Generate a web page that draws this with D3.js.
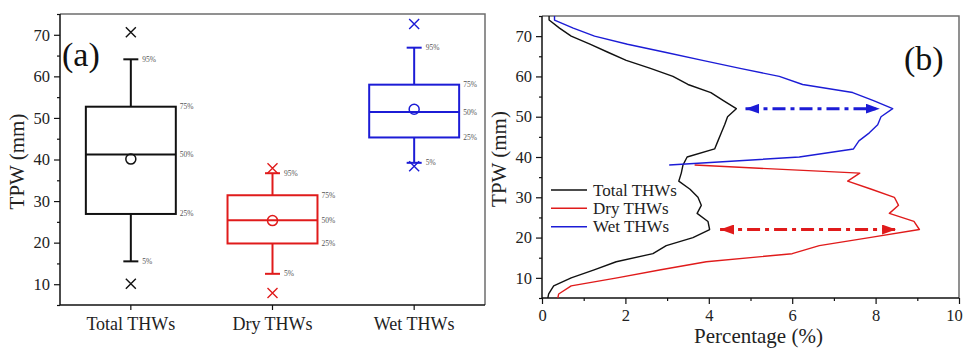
<!DOCTYPE html>
<html><head><meta charset="utf-8">
<script src="https://cdn.jsdelivr.net/npm/d3@7"></script>
<style>
body{margin:0;background:#fff;}
svg text{font-family:"Liberation Serif","Times New Roman",Times,"DejaVu Serif",serif !important;}
</style></head>
<body><svg id="c" width="963" height="350"></svg>
<script>
// ---------- Panel (a) data: box plot statistics (TPW, mm) ----------
const categories = ["Total THWs", "Dry THWs", "Wet THWs"];
const boxColors = ["#111111", "#e01b1b", "#1c1cd6"];
const p5     = [15.5, 12.5, 39.2];
const p25    = [26.9, 19.8, 45.3];
const median = [41.2, 25.4, 51.4];
const mean   = [40.1, 25.3, 52.1];
const p75    = [52.7, 31.4, 58.0];
const p95    = [64.1, 36.7, 66.9];
const minV   = [10.1, 7.9, 38.4];
const maxV   = [70.6, 37.9, 72.6];
const yTicks = [10, 20, 30, 40, 50, 60, 70];

// ---------- Panel (b) data: percentage distribution by TPW ----------
const seriesNames = ["Total THWs", "Dry THWs", "Wet THWs"];
const lineColors = ["#111111", "#e01b1b", "#1c1cd6"];
const totalTPW = [76, 74, 72, 70, 68, 66, 64, 62, 60, 58, 56, 54, 52, 50, 48, 46, 44, 42, 40, 38, 36, 34, 32, 30, 28, 26, 24, 22, 20, 18, 16, 14, 12, 10, 8, 6, 4];
const totalPct = [0.17, 0.17, 0.42, 0.70, 1.15, 1.58, 2.02, 2.60, 3.14, 3.50, 4.05, 4.35, 4.66, 4.45, 4.38, 4.30, 4.22, 4.14, 3.48, 3.38, 3.34, 3.28, 3.55, 3.74, 3.82, 3.72, 3.98, 4.02, 3.62, 2.98, 2.66, 1.78, 1.25, 0.70, 0.28, 0.16, 0.12];
const dryTPW = [38, 36, 34, 32, 30, 28, 26, 24, 22, 20, 18, 16, 14, 12, 10, 8, 6, 4];
const dryPct = [3.66, 7.62, 7.33, 7.90, 8.45, 8.55, 8.33, 8.92, 9.05, 7.85, 6.65, 6.00, 3.94, 2.85, 1.80, 0.70, 0.40, 0.36];
const wetTPW = [76, 74, 72, 70, 68, 66, 64, 62, 60, 58, 56, 54, 52, 50, 48, 46, 44, 42, 40, 38];
const wetPct = [0.30, 0.30, 0.75, 1.26, 2.05, 2.95, 3.85, 4.75, 5.69, 6.25, 7.45, 7.95, 8.41, 8.13, 8.05, 7.85, 7.60, 7.47, 6.17, 3.05];
const xTicksB = [0, 2, 4, 6, 8, 10];
// arrow annotations: [from %, to %, TPW]
const arrowFrom = [4.88, 4.27];
const arrowTo   = [8.10, 8.49];
const arrowTPW  = [52, 22];
const arrowColors = ["#1c1cd6", "#e01b1b"];

const svg = d3.select("#c");

// =================== Panel (a) ===================
const A = {l: 60, r: 485, t: 14, b: 305};
const xa = d3.scaleBand().domain(categories).range([A.l, A.r]).paddingInner(0.365).paddingOuter(0.1825);
const ya = d3.scaleLinear().domain([5, 75]).range([A.b, A.t]);

svg.append("path").attr("d", `M${A.l},${A.t}H${A.r}V${A.b}`).attr("fill", "none").attr("stroke", "#6e6e6e").attr("stroke-width", 1.5);

const gya = svg.append("g").attr("transform", `translate(${A.l},0)`)
  .call(d3.axisLeft(ya).tickValues(yTicks).tickSize(6).tickPadding(4).tickFormat(d3.format("d")));
gya.append("g").call(d3.axisLeft(ya).tickValues(d3.range(5, 76, 10)).tickSize(3).tickFormat(""));
const gxa = svg.append("g").attr("transform", `translate(0,${A.b})`)
  .call(d3.axisBottom(xa).tickSize(5).tickPadding(7));
[gya, gxa].forEach(g => {
  g.selectAll(".domain").attr("stroke", "#111").attr("stroke-width", 1.5);
  g.selectAll("line").attr("stroke", "#111").attr("stroke-width", 1.2);
});
gya.selectAll("g g .domain").remove();
gya.selectAll("text").attr("font-size", 16.5).attr("fill", "#222");
gxa.selectAll("text").attr("font-size", 18).attr("fill", "#222");
gya.select(":scope > path.domain").attr("d", `M0,${A.b}V${A.t}`);
gxa.select(":scope > path.domain").attr("d", `M${A.l},0H${A.r}`);

svg.append("text").attr("transform", `translate(24,${(A.t + A.b) / 2 + 2}) rotate(-90)`)
  .attr("text-anchor", "middle").attr("font-size", 21).attr("fill", "#222").text("TPW (mm)");
svg.append("text").attr("x", 62).attr("y", 66).attr("font-size", 34).attr("fill", "#111").text("(a)");

const bw = xa.bandwidth();
const capW = 15;
categories.forEach((c, i) => {
  const g = svg.append("g").attr("stroke", boxColors[i]).attr("stroke-width", 2).attr("fill", "none");
  const x0 = xa(c), cx = x0 + bw / 2, x1 = x0 + bw;
  g.append("line").attr("x1", cx).attr("x2", cx).attr("y1", ya(p75[i])).attr("y2", ya(p95[i]));
  g.append("line").attr("x1", cx).attr("x2", cx).attr("y1", ya(p25[i])).attr("y2", ya(p5[i]));
  g.append("line").attr("x1", cx - capW / 2).attr("x2", cx + capW / 2).attr("y1", ya(p95[i])).attr("y2", ya(p95[i]));
  g.append("line").attr("x1", cx - capW / 2).attr("x2", cx + capW / 2).attr("y1", ya(p5[i])).attr("y2", ya(p5[i]));
  g.append("rect").attr("x", x0).attr("y", ya(p75[i])).attr("width", bw).attr("height", ya(p25[i]) - ya(p75[i])).attr("fill", "#fff");
  g.append("line").attr("x1", x0).attr("x2", x1).attr("y1", ya(median[i])).attr("y2", ya(median[i]));
  g.append("circle").attr("cx", cx).attr("cy", ya(mean[i])).attr("r", 5).attr("stroke-width", 1.5);
  [minV[i], maxV[i]].forEach(v => {
    const s = 5, y = ya(v);
    g.append("path").attr("d", `M${cx - s},${y - s}L${cx + s},${y + s}M${cx - s},${y + s}L${cx + s},${y - s}`)
      .attr("stroke-width", 1.4);
  });
  const lab = (x, v, t) => svg.append("text").attr("x", x).attr("y", ya(v) + 2.5)
    .attr("font-size", 7.5).attr("fill", "#555").text(t);
  lab(cx + capW / 2 + 4, p95[i], "95%");
  lab(cx + capW / 2 + 4, p5[i], "5%");
  lab(x1 + 4, p75[i], "75%");
  lab(x1 + 4, median[i], "50%");
  lab(x1 + 4, p25[i], "25%");
});

// =================== Panel (b) ===================
const B = {l: 542, r: 959, t: 16, b: 298};
const xb = d3.scaleLinear().domain([0, 10]).range([B.l, B.r]);
const yb = d3.scaleLinear().domain([5, 75]).range([B.b, B.t]);

svg.append("path").attr("d", `M${B.l},${B.t}H${B.r}V${B.b}`).attr("fill", "none").attr("stroke", "#6e6e6e").attr("stroke-width", 1.5);

const gyb = svg.append("g").attr("transform", `translate(${B.l},0)`)
  .call(d3.axisLeft(yb).tickValues(yTicks).tickSize(6).tickPadding(4).tickFormat(d3.format("d")));
gyb.append("g").call(d3.axisLeft(yb).tickValues(d3.range(5, 76, 10)).tickSize(3).tickFormat(""));
const gxb = svg.append("g").attr("transform", `translate(0,${B.b})`)
  .call(d3.axisBottom(xb).tickValues(xTicksB).tickSize(6).tickPadding(5).tickFormat(d3.format("d")));
gxb.append("g").call(d3.axisBottom(xb).tickValues(d3.range(1, 10, 2)).tickSize(3).tickFormat(""));
[gyb, gxb].forEach(g => {
  g.selectAll("line").attr("stroke", "#111").attr("stroke-width", 1.2);
  g.selectAll(".domain").attr("stroke", "#111").attr("stroke-width", 1.5);
  g.selectAll("text").attr("font-size", 16.5).attr("fill", "#222");
});
// keep the last x tick label inside the canvas
gxb.selectAll(".tick text").filter(d => d === 10).attr("text-anchor", "end").attr("dx", "0.2em");
gyb.selectAll("g g .domain").remove();
gxb.selectAll("g g .domain").remove();
gyb.select(":scope > path.domain").attr("d", `M0,${B.b}V${B.t}`);
gxb.select(":scope > path.domain").attr("d", `M${B.l},0H${B.r}`);

svg.append("text").attr("transform", `translate(506,${(B.t + B.b) / 2 + 2}) rotate(-90)`)
  .attr("text-anchor", "middle").attr("font-size", 21).attr("fill", "#222").text("TPW (mm)");
svg.append("text").attr("x", (B.l + B.r) / 2 + 8).attr("y", 343).attr("text-anchor", "middle")
  .attr("font-size", 21).attr("fill", "#222").text("Percentage (%)");
svg.append("text").attr("x", 904).attr("y", 70).attr("font-size", 34).attr("fill", "#111").text("(b)");

svg.append("clipPath").attr("id", "clipB").append("rect")
  .attr("x", B.l).attr("y", B.t).attr("width", B.r - B.l).attr("height", B.b - B.t);

const line = d3.line().x(d => xb(d[0])).y(d => yb(d[1]));
const seriesData = [
  d3.zip(totalPct, totalTPW),
  d3.zip(dryPct, dryTPW),
  d3.zip(wetPct, wetTPW)
];
const lg = svg.append("g").attr("clip-path", "url(#clipB)");
seriesData.forEach((s, i) => {
  lg.append("path").datum(s).attr("d", line).attr("fill", "none")
    .attr("stroke", lineColors[i]).attr("stroke-width", 1.4).attr("stroke-linejoin", "round");
});

const defs = svg.append("defs");
arrowColors.forEach((col, i) => {
  defs.append("marker").attr("id", "ah" + i).attr("markerUnits", "userSpaceOnUse")
    .attr("viewBox", "0 0 14 10").attr("refX", 14).attr("refY", 5)
    .attr("markerWidth", 14).attr("markerHeight", 10).attr("orient", "auto-start-reverse")
    .append("path").attr("d", "M0,0L14,5L0,10Z").attr("fill", col);
});
arrowTPW.forEach((t, i) => {
  svg.append("line").attr("x1", xb(arrowFrom[i])).attr("x2", xb(arrowTo[i]))
    .attr("y1", yb(t)).attr("y2", yb(t))
    .attr("stroke", arrowColors[i]).attr("stroke-width", 3)
    .attr("stroke-dasharray", "13,5,4,5")
    .attr("marker-start", `url(#ah${i})`).attr("marker-end", `url(#ah${i})`);
});

const legY = [190, 208.3, 226.7];
seriesNames.forEach((n, i) => {
  svg.append("line").attr("x1", 551).attr("x2", 587).attr("y1", legY[i]).attr("y2", legY[i])
    .attr("stroke", lineColors[i]).attr("stroke-width", 1.4);
  svg.append("text").attr("x", 593).attr("y", legY[i] + 5.5).attr("font-size", 17)
    .attr("fill", "#222").text(n);
});
</script></body></html>
